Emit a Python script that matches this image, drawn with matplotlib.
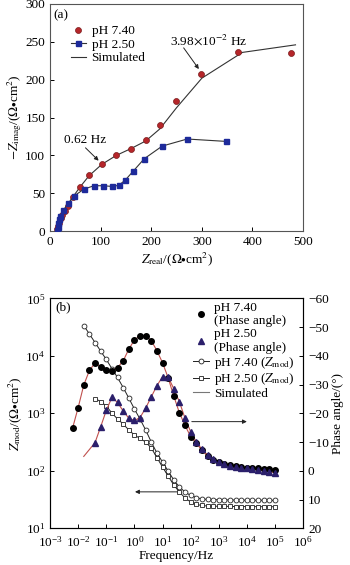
import matplotlib
matplotlib.use('Agg')
from matplotlib import pyplot as plt
from matplotlib.lines import Line2D

plt.rcParams['font.family'] = ['Liberation Serif', 'DejaVu Serif']
plt.rcParams['mathtext.fontset'] = 'stix'
plt.rcParams['axes.unicode_minus'] = True

# ---- (a) Nyquist data, Ohm*cm2 ----
re74 = [14.5, 16.4, 18.4, 21.0, 24.3, 29.6, 36.2, 46.0, 59.2, 77.0, 102.0, 131.0, 160.0,
        189.0, 217.0, 249.0, 299.0, 372.0, 477.0]
im74 = [2.2, 6.6, 11.0, 16.7, 21.0, 27.0, 33.0, 44.5, 58.6, 74.0, 88.0, 100.0, 109.0,
        120.0, 140.0, 172.0, 208.0, 237.0, 235.0]
re25 = [13.2, 15.1, 16.4, 18.4, 20.4, 26.3, 36.2, 47.4, 67.1, 86.9, 105.0, 122.0, 135.5,
        148.7, 164.5, 186.2, 221.7, 271.0, 346.8]
im25 = [1.3, 5.7, 11.0, 15.4, 19.8, 27.8, 36.6, 46.3, 55.5, 59.9, 59.9, 59.0, 60.3,
        67.4, 79.3, 95.6, 112.3, 121.6, 118.5]
sim_re74 = [14, 20, 30, 45, 59, 77, 102, 131, 160, 189, 217, 250, 300, 380, 485]
sim_im74 = [0, 15, 30, 45, 58, 73, 88, 100, 109, 119, 135, 163, 202, 236, 246]

# ---- (b) Bode data ----
freq = [0.00631, 0.01, 0.0158, 0.0251, 0.0398, 0.0631, 0.1, 0.158, 0.251, 0.398, 0.631,
        1.0, 1.58, 2.51, 3.98, 6.31, 10, 15.8, 25.1, 39.8, 63.1, 100, 158, 251, 398, 631,
        1000, 1580, 2510, 3980, 6310, 1e4, 1.58e4, 2.51e4, 3.98e4, 6.31e4, 1e5]
ph74 = [-14.8, -22.0, -29.8, -34.9, -37.5, -36.2, -35.1, -34.7, -35.9, -38.2, -42.3, -45.5,
        -47.0, -47.0, -45.3, -41.8, -37.6, -32.4, -26.0, -20.2, -15.8, -11.9, -9.6, -7.2,
        -5.1, -3.8, -3.0, -2.4, -1.9, -1.6, -1.3, -1.1, -1.0, -0.8, -0.7, -0.6, -0.4]
ph25 = [-9.8, -15.3, -21.0, -25.5, -23.8, -20.8, -18.3, -17.5, -18.5, -21.8, -25.7, -29.6,
        -32.7, -32.6, -28.6, -24.0, -18.3, -13.6, -10.1, -7.5, -5.5, -4.0, -3.0, -2.3,
        -1.8, -1.4, -1.1, -0.8, -0.5, -0.3, 0.0, 0.3, 0.7]
zmod74 = [33650, 23930, 17020, 12100, 8630, 6010, 4195, 2810, 1845, 1188, 796, 513, 317,
          204, 142, 99.3, 69.2, 52.3, 42.8, 37.2, 34.3, 32.3, 31.8, 31.5, 31.3, 31.2, 31.0,
          31.0, 30.9, 30.8, 30.8, 30.7, 30.7, 30.6, 30.6]
zmod25 = [1808, 1603, 1339, 1012, 796, 652, 513, 420, 365, 317, 249, 170, 116, 81.2, 56.6,
          42.8, 33.7, 28.7, 26.0, 24.9, 24.4, 24.3, 24.1, 24.1, 24.0, 23.9, 23.9, 23.8,
          23.8, 23.8, 23.7, 23.7, 23.7]
sim_f25_start = [0.0158]
sim_ph25_start = [-5.0]

fs = 9.5
arrow = dict(arrowstyle='-|>', color='#222222', lw=0.7, mutation_scale=6, shrinkA=0, shrinkB=0)

fig = plt.figure(figsize=(3.5, 5.65), dpi=100)

# ---------------- (a) ----------------
ax = fig.add_axes([0.143, 0.591, 0.723, 0.402])
ax.plot(sim_re74, sim_im74, '-', color='#333333', lw=0.8, zorder=2)
ax.plot(re74, im74, 'o', ms=4.3, color='#b5262a', mec='#7a1a1a', mew=0.5, zorder=3,
        label='pH 7.40')
ax.plot(re25, im25, '-s', ms=3.6, color='#333333', lw=0.8, mfc='#1d2a9a', mec='#1d2a9a',
        zorder=3, label='pH 2.50')
ax.plot([], [], '-', color='#333333', lw=0.8, label='Simulated')
ax.set_xlim(0, 500)
ax.set_ylim(0, 300)
ax.set_xticks([0, 100, 200, 300, 400, 500])
ax.set_yticks([0, 50, 100, 150, 200, 250, 300])
ax.tick_params(direction='in', labelsize=fs, length=3, width=0.7)
for s in ax.spines.values():
    s.set_linewidth(0.8)
    s.set_color('#555555')
ax.set_xlabel(r'$Z_{\rm real}$/($\Omega$$\bullet$cm$^2$)', fontsize=fs, labelpad=2)
ax.set_ylabel(r'$-Z_{\rm imag}$/($\Omega$$\bullet$cm$^2$)', fontsize=fs, labelpad=1)
ax.text(0.012, 0.975, '(a)', transform=ax.transAxes, fontsize=fs, va='top')
ax.legend(loc='upper left', bbox_to_anchor=(0.06, 0.93), frameon=False, fontsize=fs,
          handlelength=1.2, handletextpad=0.4, labelspacing=0.1, borderaxespad=0)

ax.text(70, 120, '0.62 Hz', fontsize=fs, ha='center', va='center')
ax.annotate('', xy=(96, 93), xytext=(70, 110), arrowprops=arrow)
ax.text(313, 252, r'3.98$\times$10$^{-2}$ Hz', fontsize=fs, ha='center', va='center')
ax.annotate('', xy=(294, 214), xytext=(264, 242), arrowprops=arrow)

# ---------------- (b) ----------------
bx = fig.add_axes([0.143, 0.065, 0.723, 0.407])
bx.set_xscale('log')
bx.set_yscale('log')
bx.plot(freq[2:], zmod74, '-o', color='#222222', lw=0.7, ms=3.5, mfc='white', mec='#222222',
        mew=0.6, label=r'pH 7.40 ($Z_{\rm mod}$)')
bx.plot(freq[4:], zmod25, '-s', color='#222222', lw=0.7, ms=3.3, mfc='white', mec='#222222',
        mew=0.6, label=r'pH 2.50 ($Z_{\rm mod}$)')
bx.set_xlim(1e-3, 1e6)
bx.set_ylim(10, 1e5)
bx.set_xticks([1e-3, 1e-2, 1e-1, 1e0, 1e1, 1e2, 1e3, 1e4, 1e5, 1e6])
bx.minorticks_off()
bx.tick_params(direction='in', labelsize=fs, length=3, width=0.7)
bx.tick_params(axis='x', pad=5)
bx.set_xlabel('Frequency/Hz', fontsize=fs, labelpad=0)
bx.set_ylabel(r'$Z_{\rm mod}$/($\Omega$$\bullet$cm$^2$)', fontsize=fs, labelpad=1)
bx.text(0.02, 0.985, '(b)', transform=bx.transAxes, fontsize=fs, va='top')
for s in bx.spines.values():
    s.set_linewidth(0.8)
    s.set_color('#555555')

px = bx.twinx()
px.plot(freq, ph74, '-', color='#c0504d', lw=0.8, zorder=2)
px.plot(sim_f25_start + freq[4:], sim_ph25_start + ph25, '-', color='#c0504d', lw=0.8, zorder=2)
px.plot(freq, ph74, 'o', ms=4.0, color='black', zorder=3, label='pH 7.40\n(Phase angle)')
px.plot(freq[4:], ph25, '^', ms=3.8, color='#2b1f6b', zorder=3, label='pH 2.50\n(Phase angle)')
px.set_ylim(20, -60)
px.set_yticks([20, 10, 0, -10, -20, -30, -40, -50, -60])
px.minorticks_off()
px.tick_params(direction='in', labelsize=fs, length=3, width=0.7)
px.set_ylabel('Phase angle/(°)', fontsize=fs, labelpad=2)

px.annotate('', xy=(1e4, -17.1), xytext=(1.1e2, -17.1), arrowprops=arrow)
bx.annotate('', xy=(1.05, 43), xytext=(33, 43), arrowprops=arrow)

h1, l1 = px.get_legend_handles_labels()
h2, l2 = bx.get_legend_handles_labels()
sim_handle = Line2D([], [], color='#777777', lw=0.8)
px.legend(h1 + h2 + [sim_handle], l1 + l2 + ['Simulated'], loc='upper right',
          bbox_to_anchor=(1.0, 1.02), frameon=False, fontsize=fs, handlelength=1.2,
          handletextpad=0.4, labelspacing=0.05, borderaxespad=0.2)

fig.savefig('out.png', dpi=100, facecolor='white')
